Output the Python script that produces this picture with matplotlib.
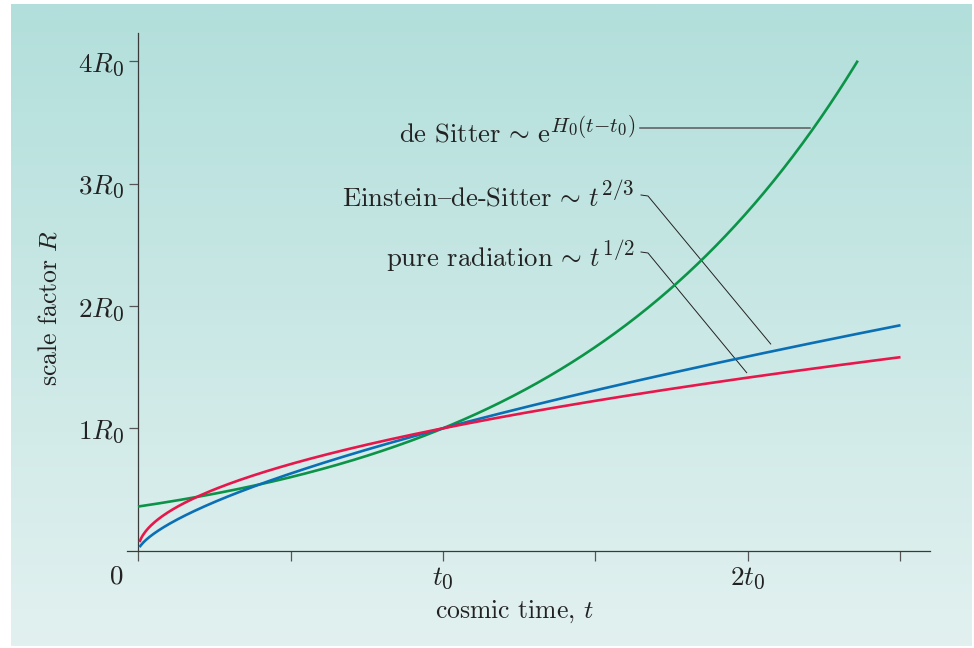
import numpy as np
import matplotlib
matplotlib.use("Agg")
import matplotlib.pyplot as plt
import matplotlib._mathtext as _mt

# TeX uses optically larger script fonts; enlarge sub/superscripts a bit
_mt.SHRINK_FACTOR = 0.79

plt.rcParams['mathtext.fontset'] = 'cm'
plt.rcParams['font.family'] = ['cmr10', 'DejaVu Serif']
plt.rcParams['axes.unicode_minus'] = False

# ---- data (in units of t0 and R0) ----
H0_t0 = 1.02                 # Hubble constant times present time
exp_eds = 2.0 / 3.0          # Einstein-de-Sitter exponent
exp_rad = 1.0 / 2.0          # pure radiation exponent
t_start = 0.005
t_end_power = 2.5
t_end_desitter = 2.36
x_ticks = [0, 0.5, 1.0, 1.5, 2.0, 2.5]
x_ticklabels = ['', '', r'$t_0$', '', r'$2t_0$', '']
y_ticks = [1, 2, 3, 4]
y_ticklabels = [r'$1R_0$', r'$2R_0$', r'$3R_0$', r'$4R_0$']
# in cmr10 (TeX OT1 encoding) the '{' slot holds the en dash glyph
label_desitter = r'de Sitter$\,\sim\,\mathrm{e}^{H_0(t{-}t_0)}$'
label_eds = r'Einstein{de-Sitter$\,\sim\,t^{2/3}$'
label_rad = r'pure radiation$\,\sim\,t^{1/2}$'

green = '#0b9447'
blue = '#0a6fb4'
red = '#e8174b'

W, H = 974, 648
fig = plt.figure(figsize=(W / 100, H / 100), dpi=100)
fig.patch.set_facecolor('white')

# background gradient panel
bg = fig.add_axes([11 / W, (H - 646) / H, (972 - 11) / W, (646 - 4) / H], zorder=0)
top = np.array([178, 223, 219]) / 255
bot = np.array([226, 241, 240]) / 255
s = np.linspace(0, 1, 256)[:, None]
grad = top[None, :] * (1 - s) + bot[None, :] * s
bg.imshow(grad[:, None, :], aspect='auto', extent=[0, 1, 0, 1])
bg.axis('off')

# main axes
ox, oy = 138.0, 550.7
px_t, px_r = 305.0, 122.4
x_left, x_right = 126.7, 930.0
y_top = 33.0
ax = fig.add_axes([x_left / W, (H - oy) / H, (x_right - x_left) / W, (oy - y_top) / H], zorder=1)
ax.patch.set_alpha(0)
ax.set_xlim((x_left - ox) / px_t, (x_right - ox) / px_t)
ax.set_ylim(0, (oy - y_top) / px_r)

t_pow = np.linspace(t_start, t_end_power, 600)
t_ds = np.linspace(0, t_end_desitter, 600)
ax.plot(t_ds, np.exp(H0_t0 * (t_ds - 1.0)), color=green, lw=1.9, solid_capstyle='butt', zorder=3)
ax.plot(t_pow, t_pow ** exp_eds, color=blue, lw=1.9, solid_capstyle='butt', zorder=3)
ax.plot(t_pow, t_pow ** exp_rad, color=red, lw=1.9, solid_capstyle='butt', zorder=4)

spine_c = '#3a3a3a'
for sp in ['top', 'right']:
    ax.spines[sp].set_visible(False)
ax.spines['left'].set_position(('data', 0))
ax.spines['left'].set_color(spine_c)
ax.spines['bottom'].set_color(spine_c)
ax.spines['left'].set_linewidth(0.9)
ax.spines['bottom'].set_linewidth(0.9)

ax.set_xticks(x_ticks)
ax.set_xticklabels(x_ticklabels)
ax.set_yticks(y_ticks)
ax.set_yticklabels(y_ticklabels)
ax.tick_params(axis='x', direction='out', length=7.5, width=0.9, color='#555555',
               labelsize=19.5, pad=3, labelcolor='#222222')
ax.tick_params(axis='y', direction='out', length=6.5, width=0.9, color='#555555',
               labelsize=19.5, pad=3.5, labelcolor='#222222')
ax.text((117 - ox) / px_t, (oy - 577) / px_r, '0', fontsize=19.5, ha='center', va='center',
        color='#222222', clip_on=False)

fig.text(514.5 / W, 1 - 612 / H, r'cosmic time, $t$', fontsize=18.5, ha='center', va='center',
         color='#222222')
fig.text(50 / W, 1 - 307.5 / H, r'scale factor $R$', fontsize=18.5, ha='center', va='center',
         rotation=90, color='#222222')

# labels and leader lines
def d(px, py):
    return ((px - ox) / px_t, (oy - py) / px_r)

tx = (635 - ox) / px_t
ax.text(tx, d(0, 142.7)[1], label_desitter, fontsize=19.2, ha='right', va='baseline', color='#222222')
ax.text(tx, d(0, 206.7)[1], label_eds, fontsize=19.2, ha='right', va='baseline', color='#222222')
ax.text(tx, d(0, 266.7)[1], label_rad, fontsize=19.2, ha='right', va='baseline', color='#222222')

p = [d(640, 127.7), d(810, 127.7)]
ax.plot([q[0] for q in p], [q[1] for q in p], color='#5a5a5a', lw=1.1, zorder=2)
p = [d(641, 195), d(648, 196), d(770.7, 344)]
ax.plot([q[0] for q in p], [q[1] for q in p], color='#222222', lw=0.7, zorder=2)
p = [d(641, 252), d(648, 253), d(746.7, 372.7)]
ax.plot([q[0] for q in p], [q[1] for q in p], color='#222222', lw=0.7, zorder=2)

fig.savefig('out.png', dpi=100)
